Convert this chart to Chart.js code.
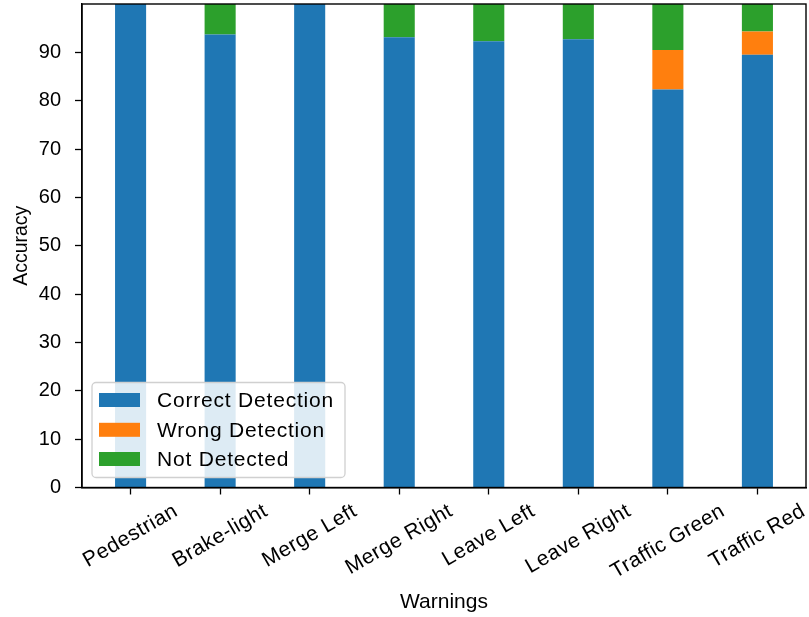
<!DOCTYPE html>
<html>
<head>
<meta charset="utf-8">
<script src="https://cdn.jsdelivr.net/npm/chart.js@4.4.0/dist/chart.umd.min.js"></script>
<style>
  html, body { margin: 0; padding: 0; background: #fff; }
</style>
</head>
<body>
<canvas id="grafico" width="809" height="617"></canvas>
<script>
// datos
const warnings = ['Pedestrian', 'Brake-light', 'Merge Left', 'Merge Right', 'Leave Left', 'Leave Right', 'Traffic Green', 'Traffic Red'];
const correctDetection = [100, 93.7, 100, 93.1, 92.3, 92.7, 82.3, 89.5];
const wrongDetection = [0, 0, 0, 0, 0, 0, 8.2, 4.8];
const notDetected = [0, 6.3, 0, 6.9, 7.7, 7.3, 9.5, 5.7];
const yTicks = [0, 10, 20, 30, 40, 50, 60, 70, 80, 90];

const FONT = "'Liberation Sans', Arial, sans-serif";

// marco completo (los 4 lados) como en matplotlib
const framePlugin = {
    id: 'frame',
    afterDatasetsDraw(chart) {
        const { ctx, chartArea: ca } = chart;
        ctx.save();
        ctx.strokeStyle = '#000';
        ctx.lineWidth = 1.4;
        ctx.strokeRect(ca.left, ca.top, ca.right - ca.left, ca.bottom - ca.top);
        ctx.restore();
    }
};

// etiquetas del eje x rotadas 30 grados y centradas en el tick
const xLabelsPlugin = {
    id: 'xLabels',
    afterDraw(chart) {
        const { ctx, chartArea: ca } = chart;
        const xs = chart.scales.x;
        const size = 21;
        const ang = 30 * Math.PI / 180;
        ctx.save();
        ctx.font = `${size}px ${FONT}`;
        ctx.letterSpacing = '0.5px';
        ctx.fillStyle = '#000';
        ctx.textAlign = 'center';
        ctx.textBaseline = 'middle';
        xs.ticks.forEach((t, i) => {
            const label = xs.getLabelForValue(t.value);
            const w = ctx.measureText(label).width;
            const h = size;
            const bboxH = w * Math.sin(ang) + h * Math.cos(ang);
            const top = ca.bottom + 13;
            ctx.save();
            ctx.translate(xs.getPixelForTick(i), top + bboxH / 2);
            ctx.rotate(-ang);
            ctx.fillText(label, 0, 0);
            ctx.restore();
        });
        ctx.restore();
    }
};

// leyenda dentro del area, abajo a la izquierda
const legendPlugin = {
    id: 'legendInside',
    afterDatasetsDraw(chart) {
        const { ctx, chartArea: ca } = chart;
        const boxW = 253, boxH = 95;
        const bx = ca.left + 10, by = ca.bottom - 10 - boxH;
        ctx.save();
        ctx.beginPath();
        ctx.roundRect(bx, by, boxW, boxH, 4);
        ctx.fillStyle = 'rgba(255,255,255,0.85)';
        ctx.fill();
        ctx.strokeStyle = '#d0d0d0';
        ctx.lineWidth = 1.3;
        ctx.stroke();
        ctx.font = `21px ${FONT}`;
        ctx.letterSpacing = '0.8px';
        ctx.textBaseline = 'middle';
        ctx.textAlign = 'left';
        const rows = [17.5, 47.3, 76.5];
        chart.data.datasets.forEach((ds, i) => {
            const cy = by + rows[i];
            ctx.fillStyle = ds.backgroundColor;
            ctx.fillRect(bx + 7, cy - 7, 41, 14);
            ctx.fillStyle = '#000';
            ctx.fillText(ds.label, bx + 65, cy + 1);
        });
        ctx.restore();
    }
};

const ctx = document.getElementById('grafico').getContext('2d');
const chart = new Chart(ctx, {
    type: 'bar',
    data: {
        labels: warnings,
        datasets: [
            { label: 'Correct Detection', data: correctDetection, backgroundColor: '#1f77b4' },
            { label: 'Wrong Detection', data: wrongDetection, backgroundColor: '#ff7f0e' },
            { label: 'Not Detected', data: notDetected, backgroundColor: '#2ca02c' }
        ]
    },
    options: {
        responsive: false,
        devicePixelRatio: 1,
        animation: false,
        layout: { padding: { top: 4, right: 3, left: 0, bottom: 0 } },
        datasets: { bar: { barPercentage: 0.347, categoryPercentage: 1, borderWidth: 0 } },
        plugins: {
            legend: { display: false },
            tooltip: { enabled: false }
        },
        scales: {
            x: {
                stacked: true,
                offset: true,
                grid: { display: true, offset: false, drawOnChartArea: false, drawTicks: true, tickLength: 7, tickWidth: 1.3, tickColor: '#000' },
                border: { display: true, color: '#000', width: 1.4 },
                ticks: { display: false },
                title: { display: true, text: 'Warnings', color: '#000', font: { family: FONT, size: 21 }, padding: { top: 0, bottom: 2 } },
                afterFit(s) {
                    s.height = 129.5; s.paddingLeft = 0; s.paddingRight = 0;
                    // margen tipo matplotlib: 0.175 de media barra + 5% del rango
                    const n = warnings.length;
                    const pad = 0.175 + 0.05 * (n - 1 + 0.35);
                    s._startValue = -pad;
                    s._valueRange = (n - 1) + 2 * pad;
                }
            },
            y: {
                stacked: true,
                min: 0,
                max: 100,
                grid: { display: true, drawOnChartArea: false, drawTicks: true, tickLength: 7, tickWidth: 1.3, tickColor: '#000' },
                border: { display: true, color: '#000', width: 1.4 },
                ticks: { stepSize: 10, color: '#000', padding: 14, font: { family: FONT, size: 20 } },
                afterBuildTicks(s) { s.ticks = yTicks.map(v => ({ value: v })); },
                title: { display: true, text: 'Accuracy', color: '#000', font: { family: FONT, size: 19.5 }, padding: { top: 10, bottom: 0 } },
                afterFit(s) { s.width = 82; s.paddingTop = 0; s.paddingBottom = 0; }
            }
        }
    },
    plugins: [framePlugin, legendPlugin, xLabelsPlugin]
});
</script>
</body>
</html>
